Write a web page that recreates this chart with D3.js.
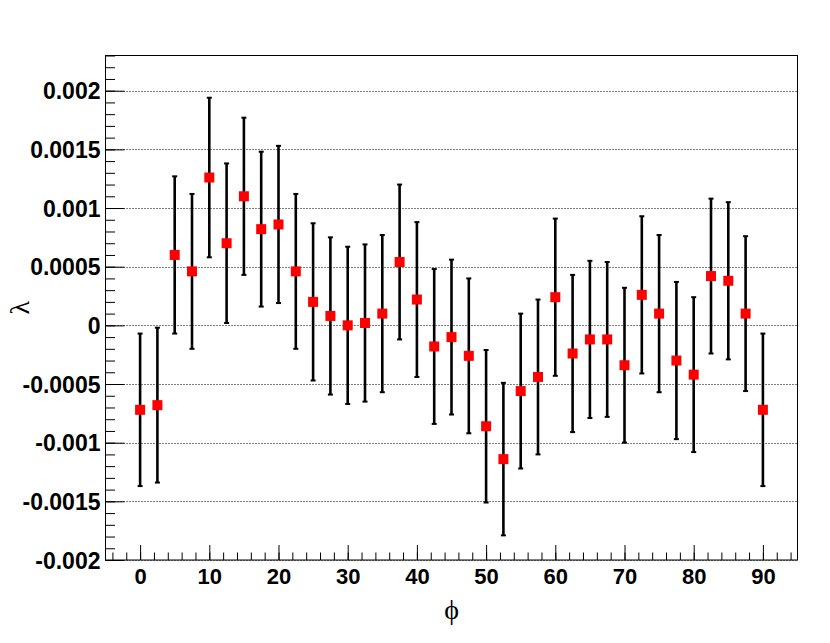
<!DOCTYPE html>
<html lang="en">
<head>
<meta charset="UTF-8">
<title>lambda vs phi</title>
<script src="https://d3js.org/d3.v7.min.js"></script>
<style>
  body { margin: 0; background: #fff; }
  .lab text { font-family: "Liberation Sans", Arial, sans-serif; font-weight: bold; fill: #000; }
  .ttl { font-family: "Liberation Serif", "Times New Roman", serif; fill: #000; }
</style>
</head>
<body>
<svg id="canvas" width="830" height="643"></svg>
<script>
// phi bins (degrees) and measured lambda with errors
const phi = [0, 2.5, 5, 7.5, 10, 12.5, 15, 17.5, 20, 22.5, 25, 27.5, 30, 32.5, 35, 37.5, 40, 42.5, 45,
             47.5, 50, 52.5, 55, 57.5, 60, 62.5, 65, 67.5, 70, 72.5, 75, 77.5, 80, 82.5, 85, 87.5, 90];
const lambda = [-0.00072, -0.00068, 0.0006, 0.00046, 0.00126, 0.0007, 0.0011, 0.00082, 0.00086, 0.00046,
                0.0002, 0.00008, 0, 0.00002, 0.0001, 0.00054, 0.00022, -0.00018, -0.0001, -0.00026,
                -0.00086, -0.00114, -0.00056, -0.00044, 0.00024, -0.00024, -0.00012, -0.00012, -0.00034,
                0.00026, 0.0001, -0.0003, -0.00042, 0.00042, 0.00038, 0.0001, -0.00072];
const lambdaErr = [0.00065, 0.00066, 0.00067, 0.00066, 0.00068, 0.00068, 0.00067, 0.00066, 0.00067, 0.00066,
                   0.00067, 0.00067, 0.00067, 0.00067, 0.00067, 0.00066, 0.00066, 0.00066, 0.00066, 0.00066,
                   0.00065, 0.00065, 0.00066, 0.00066, 0.00067, 0.00067, 0.00067, 0.00066, 0.00066, 0.00067,
                   0.00067, 0.00067, 0.00066, 0.00066, 0.00067, 0.00066, 0.00065];

const xTicks = [0, 10, 20, 30, 40, 50, 60, 70, 80, 90];
const yTicks = [-0.002, -0.0015, -0.001, -0.0005, 0, 0.0005, 0.001, 0.0015, 0.002];
const yTickLabels = ["-0.002", "-0.0015", "-0.001", "-0.0005", "0", "0.0005", "0.001", "0.0015", "0.002"];

const svg = d3.select("#canvas");
const L = 105.5, R = 797.5, T = 55.5, B = 560;

var x = d3.scaleLinear().domain([-5, 95]).range([L, R]);
var y = d3.scaleLinear().domain([-0.002, 0.0023]).range([B, T]);

svg.append("rect").attr("width", 830).attr("height", 643).attr("fill", "#fff");

// dotted grid at major y ticks
svg.append("g").selectAll("line").data(yTicks).enter().append("line")
  .attr("x1", L).attr("x2", R)
  .attr("y1", d => Math.round(y(d)) + 0.5).attr("y2", d => Math.round(y(d)) + 0.5)
  .attr("stroke", "#000").attr("stroke-width", 1).attr("stroke-dasharray", "1,2");

// minor ticks
var xMinor = d3.range(-4, 95, 2);
var yMinor = d3.range(-20, 24).map(d => d * 0.0001);

svg.append("g").attr("transform", "translate(0," + B + ")")
  .call(d3.axisTop(x).tickValues(xMinor).tickSize(7.5).tickFormat(""))
  .call(g => g.select(".domain").remove());
svg.append("g").attr("transform", "translate(0," + B + ")")
  .call(d3.axisTop(x).tickValues(xTicks).tickSize(15).tickFormat(""))
  .call(g => g.select(".domain").remove());

svg.append("g").attr("transform", "translate(" + L + ",0)")
  .call(d3.axisRight(y).tickValues(yMinor).tickSize(9.5).tickFormat(""))
  .call(g => g.select(".domain").remove());
svg.append("g").attr("transform", "translate(" + L + ",0)")
  .call(d3.axisRight(y).tickValues(yTicks).tickSize(19).tickFormat(""))
  .call(g => g.select(".domain").remove());

// tick labels
svg.append("g").attr("class", "lab").attr("transform", "translate(" + L + ",0)")
  .call(d3.axisLeft(y).tickValues(yTicks).tickSize(0).tickPadding(5)
        .tickFormat((d, i) => yTickLabels[i]))
  .call(g => g.select(".domain").remove())
  .selectAll("text").style("font-size", "23px").attr("dy", "0.35em");

svg.append("g").attr("class", "lab").attr("transform", "translate(0," + B + ")")
  .call(d3.axisBottom(x).tickValues(xTicks).tickSize(0).tickPadding(8).tickFormat(d3.format("d")))
  .call(g => g.select(".domain").remove())
  .selectAll("text").style("font-size", "22px");

// frame
svg.append("rect").attr("x", L).attr("y", T).attr("width", R - L).attr("height", B - T)
  .attr("fill", "none").attr("stroke", "#000").attr("stroke-width", 1);

// error bars
var pts = phi.map((p, i) => ({p: p, v: lambda[i], e: lambdaErr[i]}));
var eb = svg.append("g").attr("stroke", "#000");
eb.selectAll("line.bar").data(pts).enter().append("line").attr("class", "bar")
  .attr("x1", d => x(d.p)).attr("x2", d => x(d.p))
  .attr("y1", d => y(d.v + d.e)).attr("y2", d => y(d.v - d.e))
  .attr("stroke-width", 2.6);
eb.selectAll("line.capt").data(pts).enter().append("line").attr("class", "capt")
  .attr("x1", d => x(d.p) - 2.5).attr("x2", d => x(d.p) + 2.5)
  .attr("y1", d => y(d.v + d.e)).attr("y2", d => y(d.v + d.e))
  .attr("stroke-width", 2);
eb.selectAll("line.capb").data(pts).enter().append("line").attr("class", "capb")
  .attr("x1", d => x(d.p) - 2.5).attr("x2", d => x(d.p) + 2.5)
  .attr("y1", d => y(d.v - d.e)).attr("y2", d => y(d.v - d.e))
  .attr("stroke-width", 2);

// markers
svg.append("g").selectAll("rect").data(pts).enter().append("rect")
  .attr("x", d => x(d.p) - 5).attr("y", d => y(d.v) - 5)
  .attr("width", 10).attr("height", 10)
  .attr("fill", "#ff0000");

// axis titles
svg.append("text").attr("class", "ttl")
  .attr("x", (L + R) / 2).attr("y", 619)
  .attr("text-anchor", "middle").style("font-size", "28px").text("ϕ");
svg.append("text").attr("class", "ttl")
  .attr("transform", "translate(29," + ((T + B) / 2) + ") rotate(-90)")
  .attr("text-anchor", "middle").style("font-size", "28px").text("λ");
</script>
</body>
</html>
